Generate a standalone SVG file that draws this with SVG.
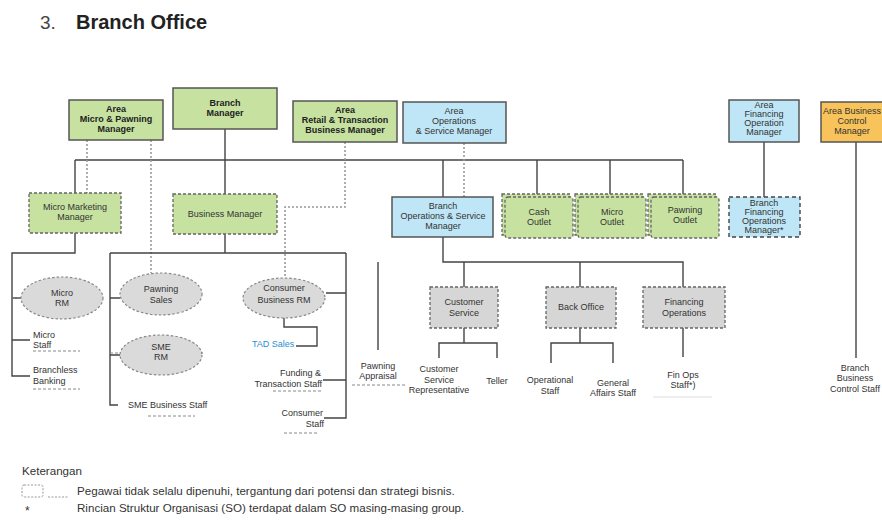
<svg xmlns="http://www.w3.org/2000/svg" width="882" height="525" viewBox="0 0 882 525">
<style>
text{font-family:"Liberation Sans",Arial,sans-serif;fill:#333}
.t{font-size:9px;text-anchor:middle}
.b{font-weight:bold;fill:#222}
.l{font-size:9px}
.r{font-size:9px;text-anchor:end}
.g{fill:#c6e1a0}
.bl{fill:#bfe6f6}
.solid{stroke:#555;stroke-width:1.5}
.dash{stroke:#666;stroke-width:1.3;stroke-dasharray:3 2}
.gray{fill:#d6d6d6}
.ell{fill:#dadada;stroke:#888;stroke-width:1.2;stroke-dasharray:2.5 2}
.ln{fill:none;stroke:#444;stroke-width:1.4}
.dot{fill:none;stroke:#999;stroke-width:1.6;stroke-dasharray:2 2}
.ul{fill:none;stroke:#888;stroke-width:1;stroke-dasharray:3 2}
.lg{font-size:11.6px}
</style>
<text x="40" y="29" style="font-size:19px;fill:#444">3.</text>
<text x="76" y="29" style="font-size:20px;font-weight:bold;fill:#222">Branch Office</text>

<g id="connectors">
<path class="ln" d="M75 160H683M225 129V194M75 160V193M443 160V197M537 160V196M610 160V196M683 160V196"/>
<path class="ln" d="M764 142V197M856 142V358"/>
<path class="dot" d="M87 140V193M151 140V273M345 142V207H285V278M464 143V197"/>
<path class="ln" d="M75 233V253H12V376H30M12 298H21M12 340H30"/>
<path class="ln" d="M225 234V253M110 253H346M110 253V405H118M110 298H120M110 355H120M346 253V418H324M326 293H346M323 380H346"/>
<path class="ln" d="M284 318V327H317V346H296"/>
<path class="ul" d="M12 298H103M110 353H203"/>
<path class="ln" d="M443 237V262H683V287M378 262V350M464 262V287M580 262V287"/>
<path class="ln" d="M464 328V343M439 358V343H497V358M580 328V343M551 363V343H613V363M683 328V357"/>
</g>

<g id="area-micro-pawning"><rect x="69" y="100" width="94" height="40" class="g solid"/>
<text class="t b" x="116" y="112">Area</text><text class="t b" x="116" y="122">Micro &amp; Pawning</text><text class="t b" x="116" y="132">Manager</text></g>
<g id="branch-manager"><rect x="173" y="88" width="104" height="41" class="g solid"/>
<text class="t b" x="225" y="106">Branch</text><text class="t b" x="225" y="116">Manager</text></g>
<g id="area-retail"><rect x="293" y="101" width="104" height="41" class="g solid"/>
<text class="t b" x="345" y="113">Area</text><text class="t b" x="345" y="123">Retail  &amp; Transaction</text><text class="t b" x="345" y="133">Business Manager</text></g>
<g id="area-ops"><rect x="403" y="102" width="103" height="41" class="bl solid"/>
<text class="t" x="454" y="114">Area</text><text class="t" x="454" y="124">Operations</text><text class="t" x="454" y="134">&amp; Service Manager</text></g>
<g id="area-financing"><rect x="729" y="100" width="70" height="42" class="bl solid"/>
<text class="t" x="764" y="108">Area</text><text class="t" x="764" y="117">Financing</text><text class="t" x="764" y="126">Operation</text><text class="t" x="764" y="135">Manager</text></g>
<g id="area-business-control"><rect x="821" y="102" width="66" height="40" fill="#f8c35a" class="solid"/>
<text class="t" x="852" y="114">Area Business</text><text class="t" x="852" y="124">Control</text><text class="t" x="852" y="134">Manager</text></g>

<g id="micro-marketing-manager"><rect x="29" y="193" width="92" height="40" class="g dash"/>
<text class="t" x="75" y="210">Micro Marketing</text><text class="t" x="75" y="220">Manager</text></g>
<g id="business-manager"><rect x="173" y="194" width="104" height="40" class="g dash"/>
<text class="t" x="225" y="217">Business Manager</text></g>
<g id="branch-ops-manager"><rect x="392" y="197" width="101" height="40" class="bl solid"/>
<text class="t" x="443" y="209">Branch</text><text class="t" x="443" y="219">Operations &amp; Service</text><text class="t" x="443" y="229">Manager</text></g>
<g id="cash-outlet"><rect x="502" y="194" width="68" height="41" class="g dash"/><rect x="505" y="197" width="68" height="41" rx="3" class="g dash"/>
<text class="t" x="539" y="215">Cash</text><text class="t" x="539" y="225">Outlet</text></g>
<g id="micro-outlet"><rect x="575" y="194" width="68" height="41" class="g dash"/><rect x="578" y="197" width="68" height="41" rx="3" class="g dash"/>
<text class="t" x="612" y="215">Micro</text><text class="t" x="612" y="225">Outlet</text></g>
<g id="pawning-outlet"><rect x="648" y="194" width="68" height="41" class="g dash"/><rect x="651" y="197" width="68" height="41" rx="3" class="g dash"/>
<text class="t" x="685" y="213">Pawning</text><text class="t" x="685" y="223">Outlet</text></g>
<g id="branch-financing"><rect x="729" y="197" width="71" height="40" class="bl" stroke="#444" stroke-width="1.4" stroke-dasharray="4 3"/>
<text class="t" x="764" y="206">Branch</text><text class="t" x="764" y="215">Financing</text><text class="t" x="764" y="224">Operations</text><text class="t" x="764" y="233">Manager*</text></g>

<g id="micro-rm"><ellipse cx="62" cy="298" rx="41" ry="21" class="ell"/>
<text class="t" x="62" y="296">Micro</text><text class="t" x="62" y="306">RM</text></g>
<g id="pawning-sales"><ellipse cx="161" cy="294" rx="41" ry="21" class="ell"/>
<text class="t" x="161" y="292">Pawning</text><text class="t" x="161" y="303">Sales</text></g>
<g id="sme-rm"><ellipse cx="161" cy="355" rx="41" ry="20" class="ell"/>
<text class="t" x="161" y="350">SME</text><text class="t" x="161" y="360">RM</text></g>
<g id="consumer-business-rm"><ellipse cx="284" cy="298" rx="41" ry="20" class="ell"/>
<text class="t" x="284" y="291">Consumer</text><text class="t" x="284" y="303">Business RM</text></g>

<g id="micro-staff"><text class="l" x="33" y="338">Micro</text><text class="l" x="33" y="348">Staff</text><path class="ul" d="M33 351H80"/></g>
<g id="branchless-banking"><text class="l" x="33" y="373">Branchless</text><text class="l" x="33" y="384">Banking</text><path class="ul" d="M33 389H80"/></g>
<g id="sme-business-staff"><text class="l" x="128" y="408">SME Business Staff</text><path class="ul" d="M148 416H195"/></g>
<g id="tad-sales"><text class="l" x="252" y="347" style="fill:#2a90d2">TAD Sales</text></g>
<g id="funding-transaction-staff"><text class="r" x="321" y="376">Funding &amp;</text><text class="r" x="322" y="387">Transaction Staff</text><path class="ul" d="M273 391H321"/></g>
<g id="consumer-staff"><text class="r" x="323" y="416">Consumer</text><text class="r" x="324" y="427">Staff</text><path class="ul" d="M284 433H318"/></g>

<g id="customer-service"><rect x="430" y="287" width="68" height="41" class="gray dash"/>
<text class="t" x="464" y="305">Customer</text><text class="t" x="464" y="316">Service</text></g>
<g id="back-office"><rect x="546" y="287" width="70" height="41" class="gray dash"/>
<text class="t" x="581" y="310">Back Office</text></g>
<g id="financing-operations"><rect x="643" y="287" width="82" height="41" class="gray dash"/>
<text class="t" x="684" y="305">Financing</text><text class="t" x="684" y="316">Operations</text></g>

<g id="pawning-appraisal"><text class="t" x="378" y="369">Pawning</text><text class="t" x="378" y="379">Appraisal</text><path class="ul" d="M352 385H405"/></g>
<g id="csr"><text class="t" x="439" y="372">Customer</text><text class="t" x="439" y="383">Service</text><text class="t" x="439" y="393">Representative</text></g>
<g id="teller"><text class="t" x="497" y="384">Teller</text></g>
<g id="operational-staff"><text class="t" x="550" y="383">Operational</text><text class="t" x="550" y="394">Staff</text></g>
<g id="general-affairs-staff"><text class="t" x="613" y="386">General</text><text class="t" x="613" y="396">Affairs Staff</text></g>
<g id="fin-ops-staff"><text class="t" x="683" y="378">Fin Ops</text><text class="t" x="683" y="388">Staff*)</text><path d="M653 397H712" stroke="#ddd" stroke-width="1.2"/></g>
<g id="branch-business-control-staff"><text class="t" x="855" y="371">Branch</text><text class="t" x="855" y="381">Business</text><text class="t" x="855" y="392">Control  Staff</text></g>

<g id="legend">
<text class="lg" x="22" y="475">Keterangan</text>
<rect x="22" y="485" width="21" height="12" rx="2" fill="none" stroke="#999" stroke-width="1" stroke-dasharray="2 1.5"/>
<path d="M48 497H68" stroke="#999" stroke-width="1" stroke-dasharray="2 1.5"/>
<text class="lg" x="77" y="495">Pegawai tidak selalu dipenuhi, tergantung dari potensi dan strategi bisnis.</text>
<text x="25" y="515" style="font-size:12px">*</text>
<text class="lg" x="77" y="512">Rincian Struktur Organisasi (SO) terdapat dalam SO masing-masing group.</text>
</g>
</svg>
